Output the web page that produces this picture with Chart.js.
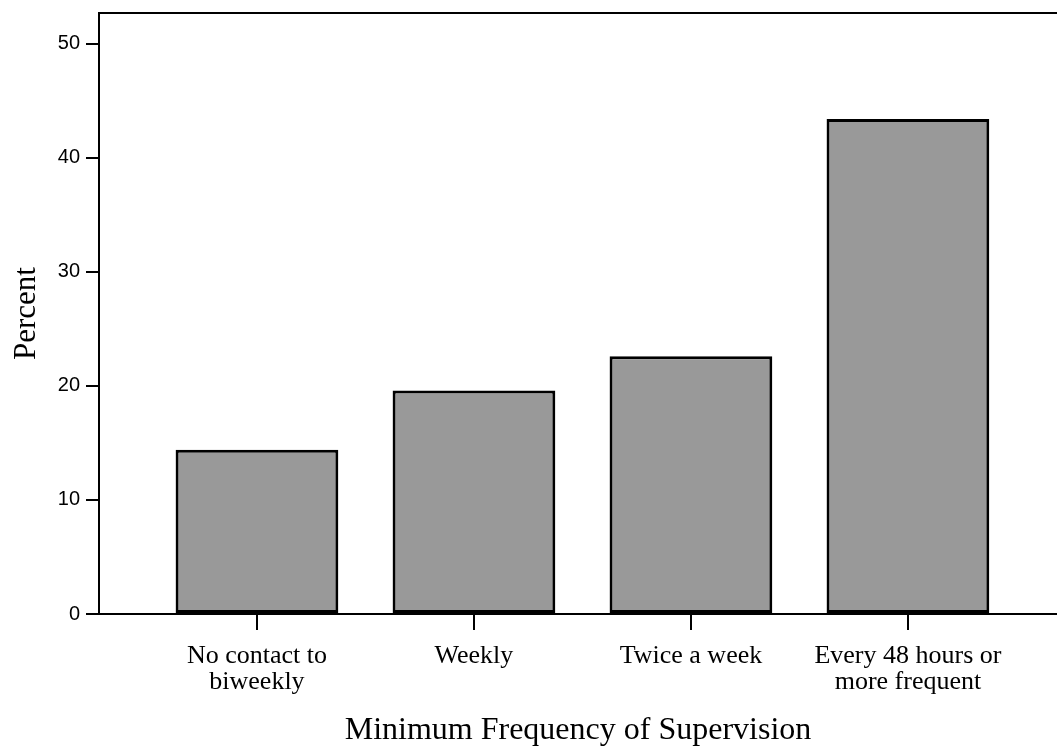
<!DOCTYPE html>
<html>
<head>
<meta charset="utf-8">
<script src="https://cdn.jsdelivr.net/npm/chart.js@4/dist/chart.umd.min.js"></script>
<style>
  html, body { margin: 0; padding: 0; background: #fff; }
  #wrap { width: 1057px; height: 748px; }
</style>
</head>
<body>
<div id="wrap"><canvas id="chart"></canvas></div>
<script>
const categories = [
  ['No contact to', 'biweekly'],
  ['Weekly'],
  ['Twice a week'],
  ['Every 48 hours or', 'more frequent']
];
const percentValues = [14.4, 19.6, 22.6, 43.4];
const yTickValues = [0, 10, 20, 30, 40, 50];

// draws the top frame line of the plot
const topFrame = {
  id: 'topFrame',
  afterDraw(chart) {
    const { ctx, chartArea } = chart;
    ctx.save();
    ctx.strokeStyle = '#000';
    ctx.lineWidth = 2;
    ctx.beginPath();
    ctx.moveTo(chartArea.left - 1, chartArea.top);
    ctx.lineTo(chartArea.right, chartArea.top);
    ctx.stroke();
    ctx.restore();
  }
};

const data = {
  datasets: [
    {
      label: 'Percent',
      data: percentValues.map((v, i) => ({ x: i, y: v })),
      backgroundColor: '#999999',
      borderColor: '#000',
      borderWidth: 3,
      borderSkipped: false,
      categoryPercentage: 1,
      barPercentage: 0.75
    }
  ]
};

const chartConfig = {
  type: 'bar',
  data: data,
  plugins: [topFrame],
  options: {
    responsive: true,
    maintainAspectRatio: false,
    animation: false,
    layout: { padding: { top: 13, right: 0, left: 0, bottom: 0 } },
    plugins: { legend: { display: false }, tooltip: { enabled: false } },
    scales: {
      x: {
        type: 'linear',
        offset: false,
        min: -0.728,
        max: 3.687,
        afterBuildTicks: scale => {
          scale.ticks = categories.map((c, i) => ({ value: i }));
        },
        afterFit: scale => {
          scale.height = 134;
          scale.paddingLeft = 0;
          scale.paddingRight = 0;
        },
        grid: { offset: false, drawOnChartArea: false, drawTicks: true, tickLength: 16, color: '#000', lineWidth: 2 },
        border: { display: true, color: '#000', width: 2 },
        ticks: {
          autoSkip: false,
          maxRotation: 0,
          padding: 13,
          color: '#000',
          font: { family: '"Liberation Serif", "Times New Roman", serif', size: 26, lineHeight: 1.0 },
          callback: value => categories[value]
        },
        title: {
          display: true,
          text: 'Minimum Frequency of Supervision',
          color: '#000',
          font: { family: '"Liberation Serif", "Times New Roman", serif', size: 32, lineHeight: 1.0 },
          padding: { top: 0, bottom: 1 }
        }
      },
      y: {
        min: 0,
        max: 52.7,
        afterBuildTicks: scale => {
          scale.ticks = yTickValues.map(v => ({ value: v }));
        },
        afterFit: scale => {
          scale.width = 99;
          scale.paddingTop = 0;
          scale.paddingBottom = 0;
        },
        grid: { drawOnChartArea: false, drawTicks: true, tickLength: 13, color: '#000', lineWidth: 2 },
        border: { display: true, color: '#000', width: 2 },
        ticks: {
          padding: 6,
          color: '#000',
          font: { family: '"Liberation Sans", Arial, sans-serif', size: 20 }
        },
        title: {
          display: true,
          text: 'Percent',
          color: '#000',
          font: { family: '"Liberation Serif", "Times New Roman", serif', size: 31 },
          padding: { top: 8, bottom: 0 }
        }
      }
    }
  }
};

const itemsChart = new Chart(document.getElementById('chart'), chartConfig);
</script>
</body>
</html>
